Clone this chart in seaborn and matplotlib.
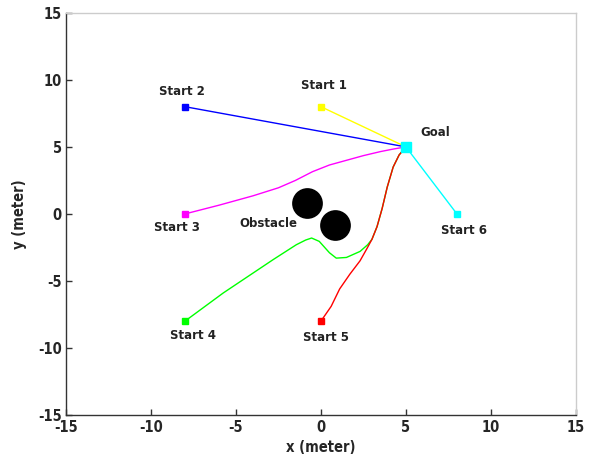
import pandas as pd
import matplotlib.pyplot as plt
import seaborn as sns

# goal and start positions (meters)
goal = (5, 5)
start_names = ['Start 1', 'Start 2', 'Start 3', 'Start 4', 'Start 5', 'Start 6']
start_x = [0, -8, -8, -8, 0, 8]
start_y = [8, 8, 0, -8, -8, 0]
path_colors = ['#ffff00', '#0000ff', '#ff00ff', '#00ff00', '#ff0000', '#00ffff']

# obstacle centres
obs_x = [-0.8, 0.8]
obs_y = [0.8, -0.8]

# trajectories
path1_x = [0, 5]
path1_y = [8, 5]
path2_x = [-8, 5]
path2_y = [8, 5]
path3_x = [-8, -6, -4, -2.5, -1.5, -0.5, 0.5, 1.5, 2.5, 3.5, 4.3, 5]
path3_y = [0, 0.65, 1.35, 1.95, 2.5, 3.15, 3.65, 4.0, 4.35, 4.65, 4.85, 5]
path4_x = [-8, -5.75, -2.8, -1.45, -0.9, -0.55, -0.1, 0.5, 0.9, 1.5, 2.3, 2.75,
           3.0, 3.3, 3.6, 3.9, 4.25, 4.6, 5]
path4_y = [-8, -5.9, -3.4, -2.3, -1.95, -1.8, -2.05, -2.9, -3.3, -3.25, -2.8, -2.3,
           -1.9, -0.95, 0.4, 2.0, 3.5, 4.4, 5]
path5_x = [0, 0.6, 1.1, 1.7, 2.3, 2.7, 3.0, 3.3, 3.6, 3.9, 4.25, 4.6, 5]
path5_y = [-8, -6.9, -5.6, -4.5, -3.5, -2.6, -1.9, -0.95, 0.4, 2.0, 3.5, 4.4, 5]
paths_x = [path1_x, path2_x, path3_x, path4_x, path5_x, [8, 5]]
paths_y = [path1_y, path2_y, path3_y, path4_y, path5_y, [0, 5]]

# label positions
label_x = [0.15, -8.2, -8.5, -7.55, 0.3, 8.4]
label_y = [9.6, 9.1, -1.05, -9.1, -9.2, -1.25]

sns.set_style('white')
plt.rcParams['font.family'] = ['DejaVu Sans']

fig = plt.figure(figsize=(5.9, 4.61), dpi=100)
ax = fig.add_axes([0.112, 0.1, 0.864, 0.872])

for i in range(6):
    df = pd.DataFrame({'x': paths_x[i], 'y': paths_y[i]})
    sns.lineplot(data=df, x='x', y='y', sort=False, color=path_colors[i],
                 linewidth=1.0, ax=ax, zorder=2 + (1 if i == 4 else 0))
    ax.plot(start_x[i], start_y[i], marker='s', markersize=4,
            color=path_colors[i], zorder=4)
    ax.text(label_x[i], label_y[i], start_names[i], ha='center', va='center',
            fontsize=8.5, fontweight='bold', color='#222222')

sns.scatterplot(x=obs_x, y=obs_y, s=420, color='black', edgecolor='black',
                ax=ax, zorder=3)
ax.plot(goal[0], goal[1], marker='s', markersize=6.5, color='#00ffff', zorder=5)
ax.text(6.7, 6.05, 'Goal', ha='center', va='center', fontsize=8.5,
        fontweight='bold', color='#222222')
ax.text(-3.1, -0.75, 'Obstacle', ha='center', va='center', fontsize=8.5,
        fontweight='bold', color='#222222')

ax.set_xlim(-15, 15)
ax.set_ylim(-15, 15)
ax.set_xticks(range(-15, 16, 5))
ax.set_yticks(range(-15, 16, 5))
tick_font = {'family': 'DejaVu Sans', 'weight': 'bold', 'size': 10.5,
             'stretch': 'condensed'}
ax.set_xticklabels([str(t) for t in range(-15, 16, 5)], fontdict=tick_font)
ax.set_yticklabels([str(t) for t in range(-15, 16, 5)], fontdict=tick_font)
ax.tick_params(direction='in', length=4, width=1, color='#333333',
               bottom=True, left=True, top=False, right=False)
ax.tick_params(axis='x', pad=4)
ax.tick_params(axis='y', pad=3)
ax.set_xlabel('x (meter)', fontdict=tick_font, labelpad=3)
ax.set_ylabel('y (meter)', fontdict=tick_font, labelpad=8)

for side in ['left', 'bottom']:
    ax.spines[side].set_color('#333333')
    ax.spines[side].set_linewidth(1.0)
for side in ['top', 'right']:
    ax.spines[side].set_color('#cccccc')
    ax.spines[side].set_linewidth(1.0)

fig.savefig('out.png', dpi=100)
